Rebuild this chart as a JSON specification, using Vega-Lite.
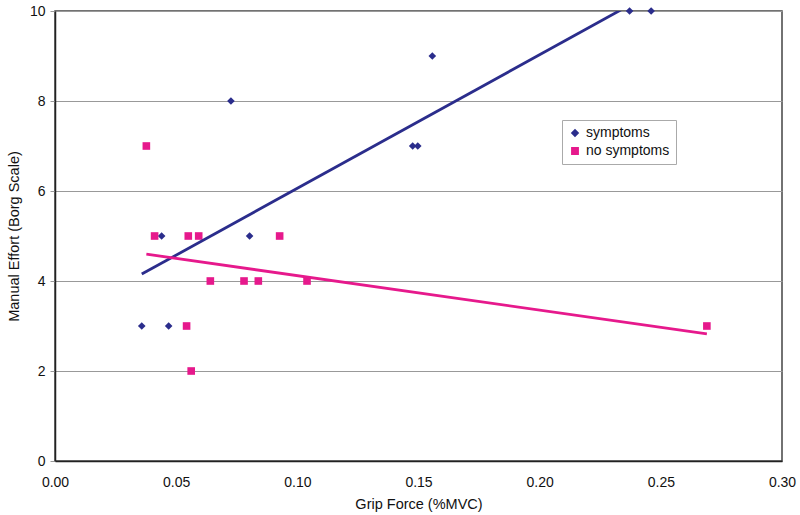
{
  "$schema": "https://vega.github.io/schema/vega-lite/v6.json",
  "autosize": {"type": "none"},
  "width": 727,
  "height": 450,
  "padding": {"left": 55, "top": 11, "right": 18, "bottom": 54},
  "background": "white",
  "config": {
    "font": "Liberation Sans",
    "view": {"stroke": "#444", "strokeWidth": 1.5},
    "axis": {"labelFont": "Liberation Sans", "titleFont": "Liberation Sans", "labelColor": "#111", "titleColor": "#111", "titleFontWeight": "normal"}
  },
  "data": {
    "values": [
      {"series": "symptoms", "grip": 0.0358, "effort": 3},
      {"series": "symptoms", "grip": 0.0469, "effort": 3},
      {"series": "symptoms", "grip": 0.0440, "effort": 5},
      {"series": "symptoms", "grip": 0.0726, "effort": 8},
      {"series": "symptoms", "grip": 0.0803, "effort": 5},
      {"series": "symptoms", "grip": 0.1476, "effort": 7},
      {"series": "symptoms", "grip": 0.1497, "effort": 7},
      {"series": "symptoms", "grip": 0.1557, "effort": 9},
      {"series": "symptoms", "grip": 0.2371, "effort": 10},
      {"series": "symptoms", "grip": 0.2460, "effort": 10},
      {"series": "no symptoms", "grip": 0.0377, "effort": 7},
      {"series": "no symptoms", "grip": 0.0411, "effort": 5},
      {"series": "no symptoms", "grip": 0.0550, "effort": 5},
      {"series": "no symptoms", "grip": 0.0593, "effort": 5},
      {"series": "no symptoms", "grip": 0.0927, "effort": 5},
      {"series": "no symptoms", "grip": 0.0641, "effort": 4},
      {"series": "no symptoms", "grip": 0.0780, "effort": 4},
      {"series": "no symptoms", "grip": 0.0839, "effort": 4},
      {"series": "no symptoms", "grip": 0.1040, "effort": 4},
      {"series": "no symptoms", "grip": 0.0543, "effort": 3},
      {"series": "no symptoms", "grip": 0.0562, "effort": 2},
      {"series": "no symptoms", "grip": 0.2690, "effort": 3}
    ]
  },
  "layer": [
    {
      "mark": {"type": "point", "filled": true, "opacity": 1, "size": 58},
      "encoding": {
        "x": {
          "field": "grip", "type": "quantitative",
          "scale": {"domain": [0, 0.3], "nice": false, "zero": true},
          "axis": {"title": "Grip Force (%MVC)", "values": [0, 0.05, 0.1, 0.15, 0.2, 0.25, 0.3], "format": ".2f", "grid": false, "ticks": false, "labelPadding": 14, "labelFontSize": 14, "titleFontSize": 14.5, "titlePadding": 8, "domainColor": "#222", "domainWidth": 1.5, "labelFlush": false}
        },
        "y": {
          "field": "effort", "type": "quantitative",
          "scale": {"domain": [0, 10], "nice": false},
          "axis": {"title": "Manual Effort (Borg  Scale)", "values": [0, 2, 4, 6, 8, 10], "grid": true, "gridColor": "#999", "gridWidth": 1, "tickSize": 5, "tickColor": "#999", "labelPadding": 5, "labelFontSize": 14, "titleFontSize": 14.5, "titlePadding": 8, "domainColor": "#222", "domainWidth": 1.5, "labelFlush": false}
        },
        "color": {
          "field": "series", "type": "nominal",
          "scale": {"domain": ["symptoms", "no symptoms"], "range": ["#2b2d8c", "#e6198c"]},
          "legend": {"title": null, "orient": "none", "legendX": 507, "legendY": 109, "strokeColor": "#aaa", "fillColor": "white", "padding": 6, "labelFontSize": 14, "labelFont": "Liberation Sans", "labelColor": "#111", "symbolSize": 40, "rowPadding": 4, "symbolOpacity": 1, "cornerRadius": 0}
        },
        "shape": {
          "field": "series", "type": "nominal",
          "scale": {"domain": ["symptoms", "no symptoms"], "range": ["diamond", "square"]}
        }
      }
    },
    {
      "transform": [{"regression": "effort", "on": "grip", "groupby": ["series"]}],
      "mark": {"type": "line", "strokeWidth": 2.8, "clip": true},
      "encoding": {
        "x": {"field": "grip", "type": "quantitative"},
        "y": {"field": "effort", "type": "quantitative"},
        "stroke": {
          "field": "series", "type": "nominal",
          "scale": {"domain": ["symptoms", "no symptoms"], "range": ["#2b2d8c", "#e6198c"]},
          "legend": null
        }
      }
    }
  ]
}
